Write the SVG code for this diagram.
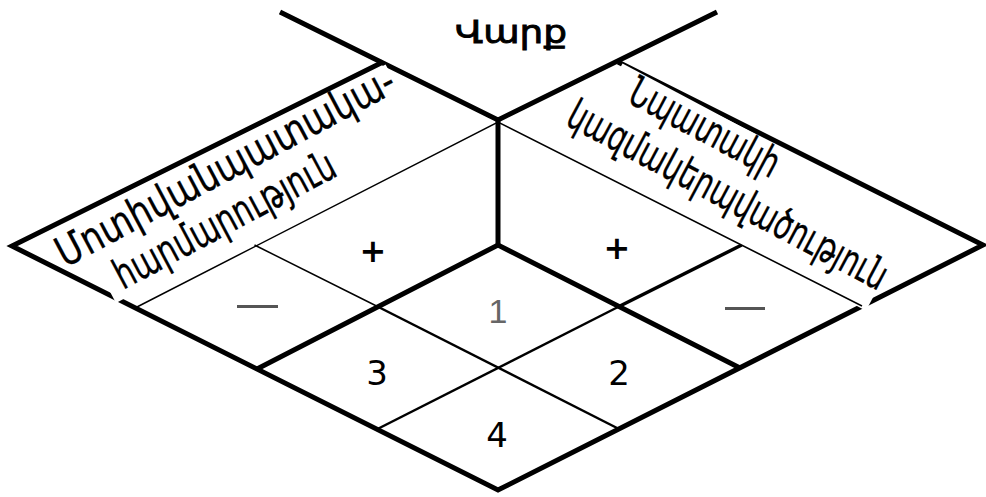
<svg xmlns="http://www.w3.org/2000/svg" width="986" height="497" viewBox="0 0 986 497">
<style>
.thick{fill:none;stroke:#000;stroke-width:5;stroke-linejoin:miter}
.mid{fill:none;stroke:#000;stroke-width:2.5}
.thin{fill:none;stroke:#000;stroke-width:1.5}
.div{fill:none;stroke:#000;stroke-width:3.5}
.lbl{font-family:"DejaVu Sans","Noto Sans",sans-serif;font-size:42px;fill:#000;stroke:#000;stroke-width:0.3}
.num{font-family:"DejaVu Sans","Liberation Sans",sans-serif;font-size:34px;fill:#000;text-anchor:middle}
.plus{font-family:"DejaVu Sans",sans-serif;font-size:32px;font-weight:bold;fill:#000;text-anchor:middle}
.box{fill:#fff;stroke:none}
</style>
<rect width="986" height="497" fill="#fff"/>
<g id="connectors">
<polyline class="thick" points="280,12 498,120 717,12"/>
<polyline class="thick" points="383,62 12,246 498,490 983,245 618,62"/>
<line class="thick" x1="498" y1="120" x2="498" y2="246"/>
<polyline class="thick" points="257,369 498,245 740,368"/>
<line class="mid" x1="377.5" y1="306.5" x2="619" y2="429"/>
<line class="mid" x1="619" y1="306.5" x2="377.5" y2="429"/>
<line class="thin" x1="254.5" y1="245" x2="377.5" y2="306.5"/>
<line class="div" x1="741.7" y1="245" x2="619" y2="306.5"/>
</g>
<g id="label-left">
<rect class="box" transform="translate(116,303) rotate(-28)" x="0" y="-84" width="350" height="84"/>
</g>
<g id="label-right">
<rect class="box" transform="translate(622.5,63.5) rotate(28)" x="0" y="0" width="331" height="104"/>
</g>
<g id="inner-lines">
<polyline class="thin" points="135,308 498,122 862,306"/>
</g>
<g id="text-left">
<text class="lbl" transform="translate(65,268) rotate(-28)" textLength="378" lengthAdjust="spacingAndGlyphs">Մոտիվանպատակա-</text>
<text class="lbl" transform="translate(123,290) rotate(-28)" textLength="245" lengthAdjust="spacingAndGlyphs">հարմարություն</text>
</g>
<g id="text-right">
<text class="lbl" transform="translate(625,101) rotate(28)" textLength="165" lengthAdjust="spacingAndGlyphs">Նպատակի</text>
<text class="lbl" transform="translate(564,124) rotate(28)" textLength="356" lengthAdjust="spacingAndGlyphs">կազմակերպվածություն</text>
</g>
<g id="title">
<text x="455" y="43" font-family="DejaVu Sans, sans-serif" font-size="32" stroke="#000" stroke-width="0.9" textLength="112" lengthAdjust="spacingAndGlyphs">Վարք</text>
</g>
<g id="cell-marks">
<text class="plus" x="373" y="262">+</text>
<text class="plus" x="617" y="259">+</text>
<line x1="237" y1="306.5" x2="278" y2="306.5" stroke="#555" stroke-width="3"/>
<line x1="725" y1="308.5" x2="765" y2="308.5" stroke="#555" stroke-width="3"/>
</g>
<g id="cell-1"><text class="num" x="498" y="323" style="fill:#666;font-family:'Liberation Sans',sans-serif">1</text></g>
<g id="cell-2"><text class="num" x="619" y="385">2</text></g>
<g id="cell-3"><text class="num" x="377" y="385">3</text></g>
<g id="cell-4"><text class="num" x="497" y="447">4</text></g>
</svg>
